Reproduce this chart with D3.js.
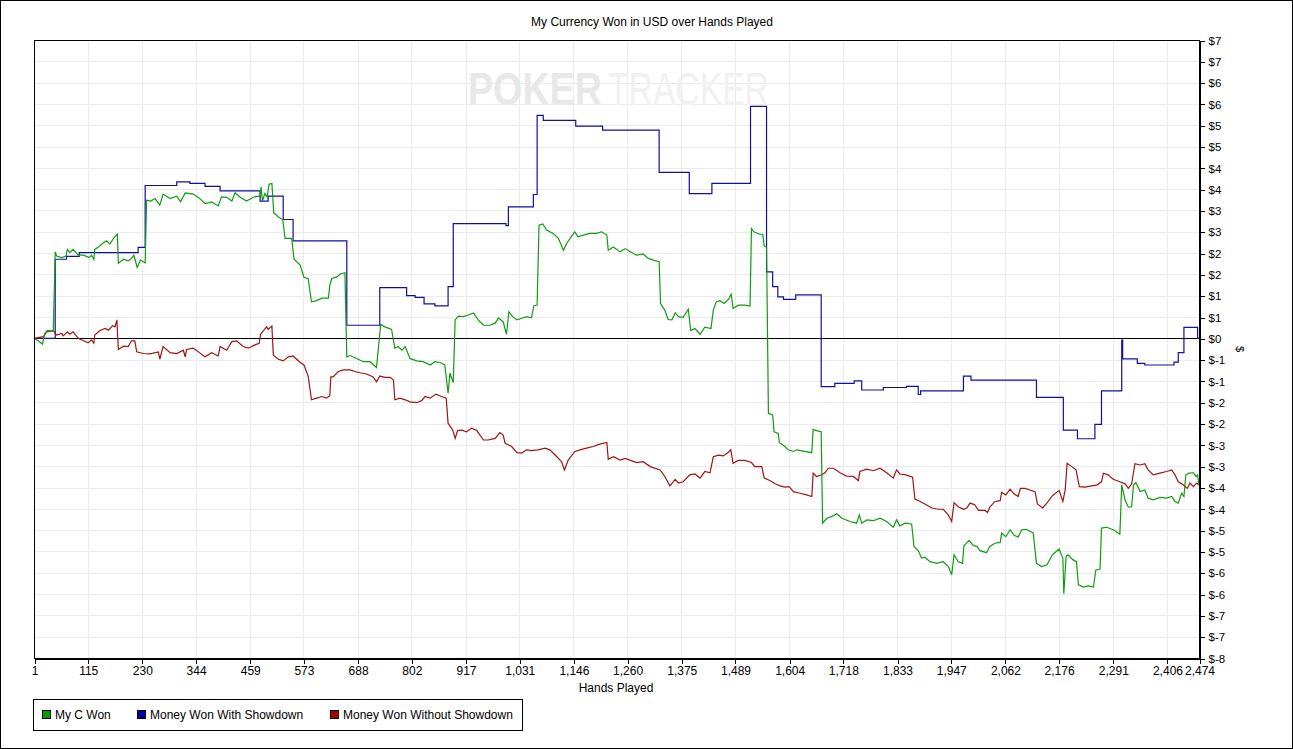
<!DOCTYPE html>
<html lang="en">
<head>
  <meta charset="utf-8">
  <title>My Currency Won in USD over Hands Played</title>
  <script src="https://cdn.jsdelivr.net/npm/d3@7"></script>
  <style>
    body { margin: 0; background: #fff; }
    svg text { font-family: "Liberation Sans", Arial, sans-serif; fill: #000; }
  </style>
</head>
<body>
  <svg class="chart" width="1293" height="749"></svg>
  <script>
    var width = 1293, height = 749;
    var margin = { top: 40, right: 94, bottom: 91, left: 34 };
    var plotW = width - margin.left - margin.right,
        plotH = height - margin.top - margin.bottom;

    // hands played -> cumulative dollars
    var greenHands = [1,10,19,24,29,42,46,49,60,69,72,77,84,95,106,118,123,128,130,137,145,155,162,171,178,180,191,201,208,213,220,227,237,240,249,258,268,275,290,304,312,322,339,350,364,378,392,399,410,421,428,438,452,468,481,483,486,491,496,500,506,510,520,529,534,548,553,566,574,583,590,601,612,626,629,633,644,651,661,665,672,686,700,714,728,737,746,760,767,774,782,789,799,813,827,842,852,863,873,880,884,891,895,902,912,923,934,944,955,969,980,987,997,1004,1009,1017,1026,1036,1047,1057,1062,1069,1073,1081,1089,1103,1114,1125,1132,1139,1149,1156,1167,1181,1195,1206,1217,1220,1231,1245,1256,1266,1280,1294,1305,1316,1328,1331,1340,1347,1355,1362,1369,1379,1390,1395,1404,1415,1425,1438,1443,1449,1457,1466,1475,1481,1485,1496,1510,1521,1524,1529,1542,1548,1551,1556,1560,1569,1572,1581,1583,1595,1602,1613,1620,1634,1652,1655,1662,1672,1675,1684,1694,1705,1716,1733,1747,1753,1758,1769,1783,1797,1811,1825,1832,1839,1850,1864,1869,1878,1885,1892,1903,1917,1931,1942,1949,1954,1963,1972,1975,1986,1995,2003,2009,2023,2030,2041,2052,2055,2064,2073,2081,2090,2098,2107,2122,2129,2140,2151,2163,2177,2185,2187,2192,2196,2206,2214,2218,2228,2239,2250,2255,2264,2267,2278,2292,2306,2310,2317,2324,2331,2335,2340,2349,2359,2366,2377,2391,2405,2416,2423,2430,2437,2442,2446,2453,2462,2468,2471,2474];
    var greenWon = [0,-0.06,-0.14,0.12,0.19,0.18,2.11,2.01,1.97,2.01,2.17,2.09,2.17,2.03,2.03,1.97,2.03,1.93,2.17,2.22,2.30,2.38,2.30,2.46,2.54,1.83,1.93,1.89,1.95,2.03,1.73,1.91,1.84,3.37,3.35,3.41,3.25,3.52,3.41,3.47,3.33,3.55,3.52,3.44,3.29,3.33,3.23,3.45,3.44,3.35,3.55,3.45,3.35,3.45,3.47,3.70,3.35,3.53,3.45,3.76,3.78,3.06,2.96,2.90,2.44,2.44,1.93,1.79,1.49,1.46,0.89,0.92,0.98,0.98,1.30,1.46,1.50,1.57,1.60,-0.45,-0.42,-0.49,-0.57,-0.57,-0.71,0.34,0.28,0.22,-0.24,-0.20,-0.29,-0.20,-0.49,-0.55,-0.57,-0.65,-0.57,-0.59,-0.65,-1.34,-0.85,-1.08,0.45,0.54,0.53,0.57,0.62,0.45,0.32,0.32,0.37,0.50,0.40,0.10,0.65,0.53,0.45,0.49,0.53,0.50,0.79,0.81,2.76,2.79,2.64,2.56,2.44,2.15,2.32,2.44,2.60,2.48,2.52,2.56,2.56,2.60,2.52,2.15,2.23,2.11,2.19,2.12,2.03,2.06,1.95,1.91,1.87,0.85,0.69,0.46,0.45,0.62,0.53,0.51,0.71,0.19,0.24,0.10,0.27,0.24,0.69,0.89,0.92,0.85,0.95,1.08,0.73,0.81,0.81,0.79,2.68,2.60,2.54,2.54,2.25,2.23,-1.83,-1.87,-2.28,-2.32,-2.54,-2.64,-2.72,-2.76,-2.72,-2.75,-2.79,-2.22,-2.25,-2.28,-4.51,-4.39,-4.35,-4.28,-4.39,-4.47,-4.51,-4.31,-4.51,-4.43,-4.45,-4.39,-4.47,-4.61,-4.43,-4.58,-4.51,-4.53,-5.08,-5.18,-5.36,-5.34,-5.45,-5.49,-5.45,-5.57,-5.77,-5.28,-5.45,-5.49,-5.06,-4.93,-5.06,-5.08,-5.18,-5.23,-5.08,-5.00,-4.98,-4.75,-4.84,-4.67,-4.80,-4.85,-4.67,-4.66,-4.75,-5.49,-5.57,-5.53,-5.28,-5.14,-5.36,-6.23,-5.32,-5.28,-5.40,-5.45,-6.01,-6.07,-6.04,-6.07,-5.65,-5.63,-4.63,-4.61,-4.67,-4.78,-3.58,-3.94,-4.12,-4.11,-3.58,-3.52,-3.74,-3.70,-3.90,-3.94,-3.88,-3.90,-3.86,-3.98,-4.02,-3.78,-3.86,-3.33,-3.29,-3.28,-3.37,-3.33,-3.58];

    // step series: each value holds from its hand until the next one
    var blueHands = [1,46,70,97,222,237,304,332,364,396,481,498,530,551,665,735,792,810,829,852,880,891,1003,1008,1061,1069,1082,1151,1208,1328,1392,1440,1522,1556,1569,1580,1592,1618,1672,1701,1742,1758,1804,1853,1878,1883,1974,1990,2129,2186,2216,2253,2267,2310,2312,2343,2359,2421,2430,2442,2471,2474];
    var blueWon = [0,1.93,2.00,2.09,2.22,3.73,3.82,3.78,3.71,3.60,3.35,3.47,2.90,2.38,0.32,1.24,1.04,1.00,0.84,0.79,1.26,2.80,2.75,3.21,3.51,5.44,5.32,5.18,5.08,4.05,3.53,3.78,5.66,1.62,1.26,1.01,0.95,1.06,-1.18,-1.10,-1.04,-1.26,-1.20,-1.17,-1.37,-1.28,-0.92,-1.02,-1.44,-2.24,-2.45,-2.10,-1.28,-0.04,-0.50,-0.61,-0.65,-0.58,-0.35,0.27,0.00,0.00];

    var redHands = [1,21,28,42,49,60,63,72,77,84,95,106,116,123,128,130,141,152,159,168,173,177,180,191,201,208,215,219,233,247,265,268,275,290,304,318,322,325,339,350,364,378,392,396,410,421,431,445,456,470,479,482,489,495,498,506,509,520,530,541,551,566,574,583,590,601,612,622,629,631,636,647,658,672,682,693,707,721,728,735,746,757,764,767,778,789,799,813,824,831,842,854,866,876,880,890,895,900,909,919,930,941,955,965,980,990,997,1001,1015,1026,1036,1047,1057,1071,1086,1096,1111,1121,1127,1135,1149,1160,1174,1188,1202,1217,1220,1231,1245,1256,1266,1280,1294,1309,1330,1340,1351,1362,1369,1379,1393,1404,1415,1425,1436,1443,1454,1464,1473,1480,1485,1496,1510,1524,1531,1546,1551,1563,1574,1585,1595,1604,1613,1627,1641,1652,1655,1662,1673,1680,1687,1698,1712,1726,1740,1751,1754,1769,1783,1797,1811,1825,1832,1839,1852,1866,1871,1882,1892,1907,1921,1931,1942,1949,1954,1963,1974,1981,1988,1998,2006,2020,2025,2030,2041,2052,2055,2064,2073,2080,2090,2095,2105,2115,2126,2131,2142,2151,2163,2177,2185,2190,2194,2204,2213,2220,2232,2246,2257,2267,2271,2281,2292,2306,2317,2324,2331,2338,2349,2359,2366,2377,2391,2405,2416,2423,2430,2441,2449,2455,2462,2469,2474];
    var redWon = [0,0.04,0.16,0.19,0.08,0.12,0.06,0.16,0.10,0.16,0.00,-0.06,-0.11,-0.04,-0.12,0.08,0.19,0.24,0.20,0.31,0.28,0.45,-0.27,-0.19,-0.20,-0.06,-0.06,-0.33,-0.37,-0.38,-0.33,-0.51,-0.20,-0.35,-0.37,-0.29,-0.45,-0.27,-0.24,-0.33,-0.45,-0.35,-0.43,-0.20,-0.29,-0.08,-0.06,-0.20,-0.24,-0.16,-0.12,0.10,0.20,0.28,0.22,0.30,-0.41,-0.51,-0.55,-0.45,-0.43,-0.59,-0.65,-0.92,-1.50,-1.46,-1.42,-1.46,-1.40,-0.94,-0.94,-0.81,-0.77,-0.77,-0.81,-0.84,-0.87,-0.94,-1.06,-0.92,-0.95,-0.95,-1.02,-1.50,-1.46,-1.50,-1.55,-1.57,-1.52,-1.42,-1.46,-1.36,-1.42,-1.46,-2.07,-2.24,-2.44,-2.25,-2.24,-2.28,-2.19,-2.25,-2.48,-2.48,-2.44,-2.30,-2.36,-2.56,-2.64,-2.79,-2.80,-2.72,-2.74,-2.72,-2.68,-2.72,-2.89,-3.01,-3.21,-2.97,-2.76,-2.72,-2.68,-2.64,-2.58,-2.54,-2.95,-2.89,-2.97,-2.93,-2.97,-3.03,-3.01,-3.13,-3.21,-3.37,-3.60,-3.44,-3.53,-3.50,-3.33,-3.31,-3.41,-3.25,-3.28,-2.89,-2.85,-2.87,-2.80,-2.72,-3.05,-2.98,-2.98,-3.03,-3.13,-3.13,-3.41,-3.47,-3.55,-3.60,-3.63,-3.62,-3.74,-3.78,-3.82,-3.86,-3.29,-3.37,-3.33,-3.28,-3.17,-3.17,-3.28,-3.36,-3.37,-3.47,-3.25,-3.19,-3.23,-3.17,-3.28,-3.41,-3.21,-3.31,-3.33,-3.39,-3.92,-3.98,-4.04,-4.14,-4.17,-4.17,-4.31,-4.47,-4.01,-4.11,-4.17,-4.14,-4.02,-4.06,-4.20,-4.20,-4.25,-4.12,-3.98,-3.96,-3.76,-3.82,-3.68,-3.78,-3.86,-3.66,-3.66,-3.70,-3.74,-4.04,-4.14,-4.02,-3.84,-3.71,-3.98,-3.70,-3.05,-3.13,-3.21,-3.62,-3.63,-3.60,-3.58,-3.50,-3.29,-3.33,-3.44,-3.50,-3.55,-3.66,-3.55,-3.06,-3.09,-3.06,-3.21,-3.33,-3.29,-3.25,-3.21,-3.33,-3.50,-3.58,-3.66,-3.53,-3.62,-3.53,-3.58];

    var xTicks = [1,115,230,344,459,573,688,802,917,1031,1146,1260,1375,1489,1604,1718,1833,1947,2062,2176,2291,2406,2474];
    var yStep = 0.52;
    var yTickLabels = ["$-8","$-7","$-7","$-6","$-6","$-5","$-5","$-4","$-4","$-3","$-3","$-2","$-2","$-1","$-1",
                       "$0","$1","$1","$2","$2","$3","$3","$4","$4","$5","$5","$6","$6","$7","$7"];
    var yTicks = yTickLabels.map(function(d, i) { return (i - 15) * yStep; });

    var seriesNames = ["My C Won", "Money Won With Showdown", "Money Won Without Showdown"];
    var seriesColors = ["#109c10", "#1010a0", "#a01414"];
    var swatchColors = ["#009c00", "#00009c", "#a00000"];

    function zip(hands, vals) {
      return hands.map(function(h, i) { return { hand: h, won: vals[i] }; });
    }
    var green = zip(greenHands, greenWon),
        blue = zip(blueHands, blueWon),
        red = zip(redHands, redWon);

    var svg = d3.select("svg.chart");

    svg.append("rect")
       .attr("x", 0.5).attr("y", 0.5)
       .attr("width", width - 1).attr("height", height - 1)
       .attr("fill", "#fff").attr("stroke", "#000");

    svg.append("text")
       .attr("x", 652).attr("y", 26)
       .attr("text-anchor", "middle")
       .style("font-size", "12px")
       .text("My Currency Won in USD over Hands Played");

    var x = d3.scaleLinear()
              .domain([1, 2474])
              .range([margin.left, margin.left + plotW]);

    var y = d3.scaleLinear()
              .domain([yTicks[0], yTicks[yTicks.length - 1]])
              .range([margin.top + plotH, margin.top]);

    // grid
    svg.append("g")
       .attr("class", "grid")
       .attr("transform", "translate(0," + (margin.top + plotH) + ")")
       .call(d3.axisBottom(x).tickValues(xTicks).tickSize(-plotH).tickFormat(""));
    svg.append("g")
       .attr("class", "grid")
       .attr("transform", "translate(" + margin.left + ",0)")
       .call(d3.axisLeft(y).tickValues(yTicks).tickSize(-plotW).tickFormat(""));
    svg.selectAll(".grid .domain").remove();
    svg.selectAll(".grid line")
       .attr("stroke", "#ebebeb")
       .attr("shape-rendering", "crispEdges");

    // watermark, squeezed horizontally to fit its box
    function watermark(str, left, boxW, weight, fill) {
      var t = svg.append("text")
                 .style("font-size", "46px")
                 .style("font-weight", weight)
                 .style("fill", fill)
                 .text(str);
      var natural = t.node().getComputedTextLength();
      t.attr("transform", "translate(" + left + ",105) scale(" + (boxW / natural) + ",1)");
    }
    watermark("POKER", 468, 134, "bold", "#e8e8e8");
    watermark("TRACKER", 608, 161, "normal", "#f1f1f1");

    // zero line
    svg.append("line")
       .attr("x1", margin.left).attr("x2", margin.left + plotW)
       .attr("y1", Math.round(y(0)) + 0.5).attr("y2", Math.round(y(0)) + 0.5)
       .attr("stroke", "#000");

    var line = d3.line()
                 .x(function(d) { return x(d.hand); })
                 .y(function(d) { return y(d.won); });
    var stepLine = d3.line()
                     .curve(d3.curveStepAfter)
                     .x(function(d) { return x(d.hand); })
                     .y(function(d) { return y(d.won); });

    svg.append("path")
       .datum(blue)
       .attr("d", stepLine)
       .attr("fill", "none")
       .attr("stroke", seriesColors[1])
       .attr("stroke-width", 1.2);

    svg.append("path")
       .datum(red)
       .attr("d", line)
       .attr("fill", "none")
       .attr("stroke", seriesColors[2])
       .attr("stroke-width", 1.2);

    svg.append("path")
       .datum(green)
       .attr("d", line)
       .attr("fill", "none")
       .attr("stroke", seriesColors[0])
       .attr("stroke-width", 1.2);

    // plot frame
    svg.append("rect")
       .attr("x", margin.left + 0.5).attr("y", margin.top + 0.5)
       .attr("width", plotW).attr("height", plotH)
       .attr("fill", "none").attr("stroke", "#000")
       .attr("shape-rendering", "crispEdges");

    // axes
    var xAxis = svg.append("g")
       .attr("transform", "translate(0.5," + (margin.top + plotH + 0.5) + ")")
       .call(d3.axisBottom(x).tickValues(xTicks).tickSize(5).tickPadding(3).tickFormat(d3.format(",")));
    var yAxis = svg.append("g")
       .attr("transform", "translate(" + (margin.left + plotW + 0.5) + ",0.5)")
       .call(d3.axisRight(y).tickValues(yTicks).tickSize(5).tickPadding(4)
               .tickFormat(function(d, i) { return yTickLabels[i]; }));
    svg.selectAll(".domain").attr("stroke", "#000");
    xAxis.selectAll("text").style("font-size", "12px").style("font-family", "\"Liberation Sans\", Arial, sans-serif");
    yAxis.selectAll("text").style("font-size", "11.5px").style("font-family", "\"Liberation Sans\", Arial, sans-serif");
    svg.selectAll("g line, .domain").attr("shape-rendering", "crispEdges");

    svg.append("text")
       .attr("x", 616).attr("y", 692)
       .attr("text-anchor", "middle")
       .style("font-size", "12px")
       .text("Hands Played");

    svg.append("text")
       .attr("transform", "translate(1236,349) rotate(90)")
       .attr("text-anchor", "middle")
       .style("font-size", "11px")
       .text("$");

    // legend
    var legend = svg.append("g");
    legend.append("rect")
          .attr("x", 33.5).attr("y", 699.5)
          .attr("width", 489).attr("height", 31)
          .attr("fill", "#fff").attr("stroke", "#000");
    var legendX = [42, 137, 330];
    var items = legend.selectAll("g.item")
          .data(seriesNames)
          .enter().append("g")
          .attr("transform", function(d, i) { return "translate(" + legendX[i] + ",710)"; });
    items.append("rect")
         .attr("x", 0.5).attr("y", 0.5)
         .attr("width", 8).attr("height", 8)
         .attr("fill", function(d, i) { return swatchColors[i]; })
         .attr("stroke", "#000")
         .attr("shape-rendering", "crispEdges");
    items.append("text")
         .attr("x", 13).attr("y", 9)
         .style("font-size", "12px")
         .text(function(d) { return d; });
  </script>
</body>
</html>
